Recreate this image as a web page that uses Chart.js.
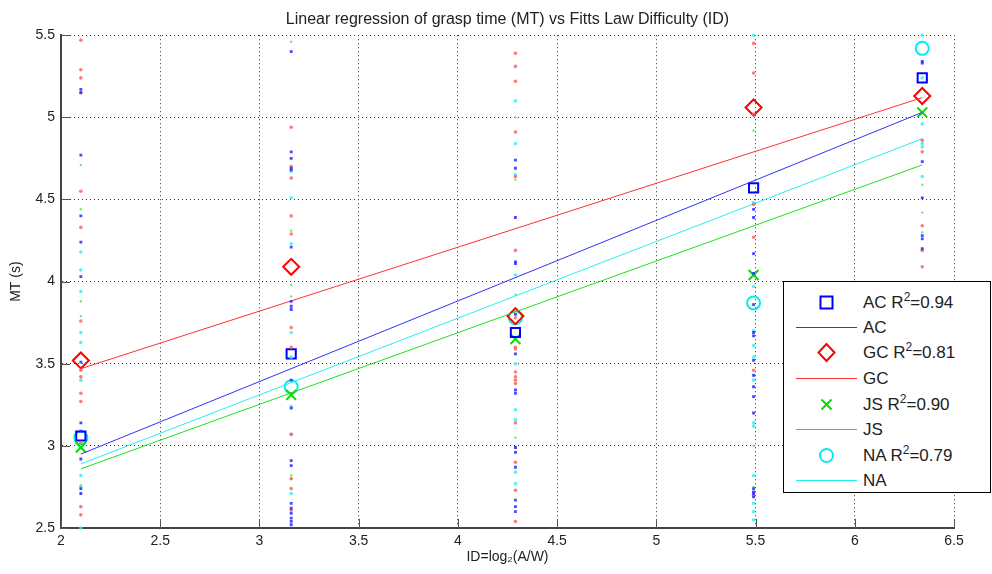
<!DOCTYPE html>
<html>
<head>
<meta charset="utf-8">
<script src="https://cdn.jsdelivr.net/npm/chart.js@4/dist/chart.umd.min.js"></script>
<style>
  html, body { margin: 0; padding: 0; background: #fff; }
  #wrap { position: relative; width: 992px; height: 574px; }
  #legend {
    position: absolute; left: 783px; top: 281px; width: 206px; height: 210px;
    border: 1px solid #000; background: #fff;
    font-family: "Liberation Sans", Arial, sans-serif; font-size: 17px; color: #222;
  }
  .row { position: absolute; left: 0; width: 206px; height: 24px; }
  .row .key { position: absolute; left: 0; top: 0; width: 80px; height: 24px; }
  .row .txt { position: absolute; left: 79px; top: 2px; line-height: 20px; white-space: nowrap; }
  .row sup { font-size: 12px; line-height: 0; vertical-align: 7px; }
</style>
</head>
<body>
<div id="wrap">
  <canvas id="chart" width="992" height="574"></canvas>
  <div id="legend"></div>
</div>
<script>
// Fitts ID of each target condition
const ids = [2.10, 3.16, 4.29, 5.49, 6.34];

// mean grasp time per condition
const acMean = [3.06, 3.56, 3.69, 4.57, 5.24];
const gcMean = [3.52, 4.09, 3.79, 5.06, 5.13];
const jsMean = [2.99, 3.31, 3.65, 4.04, 5.03];
const naMean = [3.05, 3.36, 3.78, 3.87, 5.42];

// regression lines (end points)
const fitX = [2.10, 6.34];
const acFit = [2.95, 5.03];
const gcFit = [3.47, 5.12];
const jsFit = [2.86, 4.71];
const naFit = [2.89, 4.87];

// single trials, one list per ID
const acTrials = [
  [5.17, 5.15, 4.77, 4.40, 4.24, 4.03, 3.51, 3.14, 3.09, 2.92, 2.74, 2.71],
  [5.40, 4.79, 4.75, 4.69, 4.68, 4.21, 3.88, 3.85, 3.83, 3.40, 3.23, 2.91, 2.88, 2.65, 2.62, 2.59, 2.56, 2.54, 2.52],
  [4.74, 4.69, 4.39, 4.12, 4.11, 3.80, 3.56, 3.34, 3.32, 2.99, 2.96, 2.87, 2.67, 2.63, 2.60],
  [4.44, 4.39, 4.17, 4.05, 3.86, 3.69, 3.67, 3.52, 3.43, 3.36, 3.30, 3.20, 2.74, 2.72, 2.71, 2.69],
  [5.34, 5.33, 4.73, 4.51, 4.28, 4.26, 4.20]
];
const gcTrials = [
  [5.47, 5.29, 5.24, 5.15, 4.55, 4.33, 3.76, 3.46, 3.42, 3.32, 3.27, 3.02, 2.63, 2.58],
  [4.94, 4.70, 4.63, 4.40, 4.29, 3.72, 3.60, 3.07, 2.80, 2.74, 2.61],
  [5.39, 5.31, 5.22, 4.91, 4.64, 4.19, 3.78, 3.60, 3.59, 3.45, 3.42, 3.40, 3.38, 3.14, 2.90, 2.73, 2.54],
  [5.45, 5.27, 5.02, 4.47, 4.27, 3.46, 2.70],
  [4.86, 4.79, 4.34, 4.19, 4.09]
];
const jsTrials = [
  [4.71, 4.44, 3.88, 3.79, 2.76],
  [5.46, 4.31, 3.98, 3.91, 2.82, 2.80],
  [5.00, 4.62, 3.92, 3.05, 2.99],
  [4.92, 3.00, 2.75],
  [4.59, 4.42, 4.30]
];
const naTrials = [
  [4.18, 4.07, 3.94, 3.69, 3.63, 3.40, 2.82, 2.75, 2.50],
  [4.67, 4.51, 4.23, 3.69, 3.54, 3.24, 3.07, 2.71],
  [5.10, 4.84, 4.65, 4.04, 3.50, 3.22, 3.16, 2.84, 2.77],
  [5.50, 4.48, 3.97, 3.70, 3.61, 3.54, 3.40, 3.14, 3.12, 2.82, 2.65, 2.60, 2.55],
  [5.50, 5.24, 4.96, 4.84, 4.82, 4.64]
];

const groups = ['AC', 'GC', 'JS', 'NA'];
const r2 = ['0.94', '0.81', '0.90', '0.79'];
const xTicks = [2, 2.5, 3, 3.5, 4, 4.5, 5, 5.5, 6, 6.5];
const yTicks = [2.5, 3, 3.5, 4, 4.5, 5, 5.5];

const FONT = '"Liberation Sans", Arial, sans-serif';
const TXT = '#222';

function trialPoints(trials) {
  const pts = [];
  trials.forEach((col, i) => col.forEach(v => pts.push({ x: ids[i], y: v })));
  return pts;
}
function meanPoints(means) {
  return means.map((v, i) => ({ x: ids[i], y: v }));
}
function fitPoints(fit) {
  return fit.map((v, i) => ({ x: fitX[i], y: v }));
}

const datasets = [
  { data: trialPoints(acTrials), pointStyle: 'rect', pointRadius: 2, backgroundColor: 'rgba(40,40,255,0.85)', borderWidth: 0 },
  { data: trialPoints(gcTrials), pointStyle: 'circle', pointRadius: 1.8, backgroundColor: 'rgba(255,90,90,0.8)', borderWidth: 0 },
  { data: trialPoints(jsTrials), pointStyle: 'circle', pointRadius: 1.2, backgroundColor: 'rgba(80,230,80,0.8)', borderWidth: 0 },
  { data: trialPoints(naTrials), pointStyle: 'circle', pointRadius: 1.8, backgroundColor: 'rgba(60,240,240,0.85)', borderWidth: 0 },

  { type: 'line', data: fitPoints(acFit), borderColor: '#3030ff', borderWidth: 1, pointRadius: 0, showLine: true },
  { type: 'line', data: fitPoints(gcFit), borderColor: '#ff3030', borderWidth: 1, pointRadius: 0, showLine: true },
  { type: 'line', data: fitPoints(jsFit), borderColor: '#20e020', borderWidth: 1, pointRadius: 0, showLine: true },
  { type: 'line', data: fitPoints(naFit), borderColor: '#20f0f0', borderWidth: 1, pointRadius: 0, showLine: true },

  { data: meanPoints(acMean), pointStyle: 'rect', pointRadius: 6.5, borderColor: '#0000ff', borderWidth: 2, backgroundColor: 'transparent' },
  { data: meanPoints(gcMean), pointStyle: 'rectRot', pointRadius: 8, borderColor: '#ff0000', borderWidth: 2, backgroundColor: 'transparent' },
  { data: meanPoints(jsMean), pointStyle: 'crossRot', pointRadius: 7, borderColor: '#00e000', borderWidth: 2, backgroundColor: 'transparent' },
  { data: meanPoints(naMean), pointStyle: 'circle', pointRadius: 6.5, borderColor: '#00eeee', borderWidth: 2, backgroundColor: 'transparent' }
];
datasets.forEach(d => { d.clip = 10; });

// inward tick marks like the original figure
const innerTicks = {
  id: 'innerTicks',
  afterDraw(chart) {
    const { ctx, chartArea, scales: { x, y } } = chart;
    ctx.save();
    ctx.strokeStyle = '#555';
    ctx.lineWidth = 1;
    ctx.beginPath();
    x.ticks.forEach(t => {
      const px = Math.round(x.getPixelForValue(t.value)) + 0.5;
      ctx.moveTo(px, chartArea.bottom);
      ctx.lineTo(px, chartArea.bottom - 9);
    });
    y.ticks.forEach(t => {
      const py = Math.round(y.getPixelForValue(t.value)) + 0.5;
      ctx.moveTo(chartArea.left, py);
      ctx.lineTo(chartArea.left + 9, py);
    });
    ctx.stroke();
    ctx.restore();
  }
};

const tickFmt = v => String(v);

new Chart(document.getElementById('chart'), {
  type: 'scatter',
  data: { datasets: datasets },
  options: {
    responsive: false,
    animation: false,
    events: [],
    layout: { padding: { left: 0, right: 38, top: 0, bottom: 0 } },
    plugins: {
      legend: { display: false },
      tooltip: { enabled: false },
      title: {
        display: true,
        fullSize: false,
        text: 'Linear regression of grasp time (MT) vs Fitts Law Difficulty (ID)',
        color: TXT,
        font: { family: FONT, size: 16, weight: 'normal' },
        padding: { top: 10, bottom: 6 }
      }
    },
    scales: {
      x: {
        type: 'linear', min: 2, max: 6.5,
        afterBuildTicks: s => { s.ticks = xTicks.map(v => ({ value: v })); },
        afterFit: s => { s.height = 46; },
        grid: { color: '#333', lineWidth: 1, drawTicks: false, borderDash: [1, 3] },
        border: { color: '#444', width: 2, dash: [1, 3] },
        ticks: { color: TXT, font: { family: FONT, size: 14 }, padding: 5, maxRotation: 0, autoSkip: false, callback: tickFmt },
        title: { display: true, text: 'ID=log\u2082(A/W)', color: TXT, font: { family: FONT, size: 14 }, padding: { top: 8, bottom: 8 } }
      },
      y: {
        type: 'linear', min: 2.5, max: 5.5,
        afterBuildTicks: s => { s.ticks = yTicks.map(v => ({ value: v })); },
        afterFit: s => { s.width = 61; },
        grid: { color: '#333', lineWidth: 1, drawTicks: false, borderDash: [1, 3] },
        border: { color: '#444', width: 2, dash: [1, 3] },
        ticks: { color: TXT, font: { family: FONT, size: 14 }, padding: 6, autoSkip: false, callback: tickFmt },
        title: { display: true, text: 'MT (s)', color: TXT, font: { family: FONT, size: 14 }, padding: { top: 8, bottom: 8 } }
      }
    }
  },
  plugins: [innerTicks]
});

// legend box, built as html so the superscript stays real text
const legendColors = ['#0000ff', '#ff0000', '#00e000', '#00eeee'];
const lineColors = ['#3030ff', '#ff3030', '#20e020', '#20f0f0'];
const markerSvg = [
  c => `<rect x="4.5" y="4.5" width="12" height="12" fill="none" stroke="${c}" stroke-width="2"/>`,
  c => `<path d="M10.5 2 L18.5 10.5 L10.5 19 L2.5 10.5 Z" fill="none" stroke="${c}" stroke-width="2"/>`,
  c => `<path d="M5.5 5.5 L15.5 15.5 M15.5 5.5 L5.5 15.5" stroke="${c}" stroke-width="2"/>`,
  c => `<circle cx="10.5" cy="10.5" r="6.5" fill="none" stroke="${c}" stroke-width="2"/>`
];
const legend = document.getElementById('legend');
const rowTop = [9, 34, 59, 85, 111, 136, 162, 187];
groups.forEach((g, i) => {
  const m = document.createElement('div');
  m.className = 'row';
  m.style.top = rowTop[i * 2] + 'px';
  m.innerHTML = `<div class="key"><svg width="21" height="21" style="position:absolute;left:32px;top:1px">${markerSvg[i](legendColors[i])}</svg></div>` +
    `<div class="txt">${g} R<sup>2</sup>=${r2[i]}</div>`;
  legend.appendChild(m);

  const l = document.createElement('div');
  l.className = 'row';
  l.style.top = rowTop[i * 2 + 1] + 'px';
  l.innerHTML = `<div class="key"><div style="position:absolute;left:12px;top:11px;width:61px;height:1px;background:${lineColors[i]}"></div></div>` +
    `<div class="txt">${g}</div>`;
  legend.appendChild(l);
});
</script>
</body>
</html>
